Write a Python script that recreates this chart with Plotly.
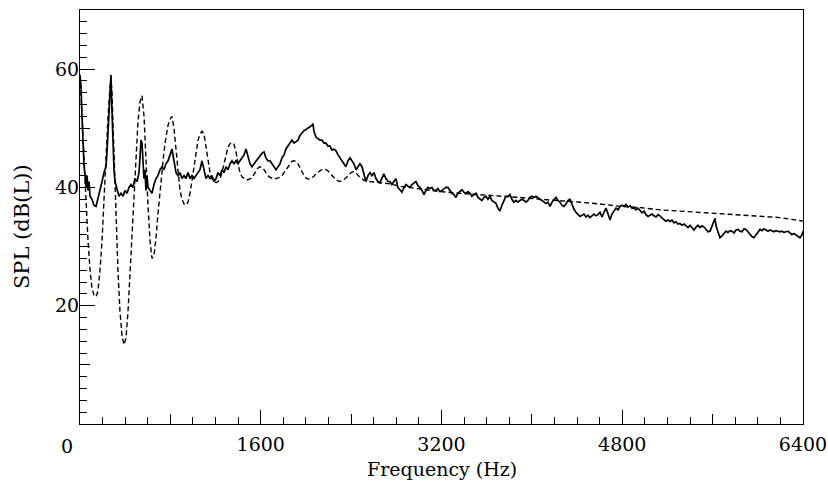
import plotly.graph_objects as go

# ---- data ----
freq_solid = [
    0, 9, 18, 27, 35, 44, 53, 62, 71, 80,
    89, 106, 124, 142, 159, 177, 195, 212, 230, 239,
    248, 257, 266, 274, 283, 292, 301, 310, 328, 345,
    363, 381, 398, 416, 434, 451, 469, 487, 505, 522,
    531, 540, 549, 558, 566, 575, 584, 593, 602, 620,
    637, 655, 673, 690, 708, 726, 743, 761, 779, 797,
    814, 832, 850, 868, 885, 903, 921, 938, 956, 974,
    991, 1009, 1027, 1045, 1062, 1080, 1098, 1115, 1133, 1151,
    1168, 1186, 1204, 1222, 1239, 1257, 1275, 1292, 1310, 1328,
    1345, 1363, 1381, 1399, 1416, 1434, 1452, 1469, 1487, 1505,
    1522, 1540, 1558, 1576, 1593, 1611, 1629, 1646, 1664, 1682,
    1700, 1717, 1735, 1753, 1770, 1788, 1806, 1823, 1841, 1859,
    1876, 1894, 1912, 1930, 1947, 1965, 1983, 2000, 2018, 2036,
    2053, 2062, 2071, 2089, 2107, 2124, 2142, 2160, 2177, 2195,
    2213, 2230, 2248, 2266, 2284, 2301, 2319, 2337, 2354, 2372,
    2390, 2407, 2425, 2443, 2460, 2478, 2496, 2513, 2531, 2549,
    2567, 2584, 2602, 2620, 2637, 2655, 2673, 2690, 2708, 2726,
    2744, 2761, 2779, 2797, 2814, 2832, 2850, 2868, 2885, 2903,
    2921, 2938, 2956, 2974, 2991, 3009, 3027, 3045, 3062, 3080,
    3098, 3115, 3133, 3151, 3168, 3186, 3204, 3222, 3239, 3257,
    3275, 3292, 3310, 3328, 3345, 3363, 3381, 3398, 3416, 3434,
    3452, 3469, 3487, 3505, 3523, 3540, 3558, 3576, 3593, 3611,
    3629, 3646, 3664, 3682, 3700, 3717, 3735, 3753, 3770, 3788,
    3806, 3823, 3841, 3859, 3876, 3894, 3912, 3930, 3947, 3965,
    3983, 4000, 4018, 4036, 4054, 4071, 4089, 4107, 4124, 4142,
    4160, 4178, 4195, 4213, 4231, 4249, 4266, 4284, 4302, 4320,
    4337, 4355, 4373, 4390, 4408, 4426, 4444, 4461, 4479, 4497,
    4514, 4532, 4550, 4568, 4585, 4603, 4621, 4638, 4656, 4674,
    4692, 4709, 4727, 4745, 4762, 4780, 4798, 4816, 4833, 4851,
    4869, 4886, 4904, 4922, 4940, 4957, 4975, 4993, 5010, 5028,
    5046, 5063, 5081, 5099, 5117, 5134, 5152, 5170, 5187, 5205,
    5223, 5240, 5258, 5276, 5293, 5311, 5329, 5347, 5364, 5382,
    5400, 5417, 5435, 5453, 5470, 5488, 5506, 5524, 5541, 5559,
    5577, 5594, 5612, 5621, 5630, 5647, 5665, 5683, 5701, 5718,
    5736, 5754, 5771, 5789, 5807, 5825, 5842, 5860, 5878, 5895,
    5913, 5931, 5948, 5966, 5984, 6001, 6019, 6037, 6054, 6072,
    6090, 6108, 6125, 6143, 6161, 6178, 6196, 6214, 6232, 6249,
    6267, 6285, 6302, 6320, 6338, 6355, 6373, 6391, 6400,
]
spl_solid = [
    59, 57, 52, 47, 44, 42, 40, 42, 39.5, 41,
    38.5, 38, 37, 36.8, 38, 39.5, 41, 42.5, 43.5, 46,
    49, 53, 56, 59, 53, 47, 43, 41, 39.5, 38.5,
    39, 38.5, 39.5, 39, 40, 40.5, 40, 41.5, 41, 42.5,
    45, 48, 47.5, 45, 41.5, 43, 39.5, 42, 40, 39.5,
    39, 40.5, 41.5, 42, 43, 43.5, 43, 44, 44.5, 45.5,
    46.5, 44.5, 42.5, 42, 42.5, 41.5, 42, 41.5, 42.5, 41.5,
    42, 41.5, 42, 42.5, 43, 44.5, 43, 41.5, 42, 41.5,
    42, 41, 41.5, 42.5, 42, 43, 42.5, 43.5, 43, 44,
    44.5, 44, 44.5, 44, 44.5, 45, 45.5, 46.5, 45, 44,
    43.5, 44, 44.5, 45, 45.5, 45.8, 46, 45, 44.5, 44.5,
    44, 43.5, 43, 43.5, 44, 45, 45.5, 46.5, 47, 47.5,
    48, 47.5, 47.8, 48, 48.8, 49.3, 49.6, 49.8, 50, 50.3,
    50.5, 50.8, 49.5, 48.5, 48.3, 48, 48, 47.5, 47.5, 47,
    47, 46.3, 46.5, 46.2, 45.5, 45, 44.5, 44, 43.5, 44.5,
    45, 44.5, 44, 43, 43.5, 44, 43.5, 42, 41, 42,
    42.5, 42, 42.5, 41.5, 41, 40.8, 41.5, 42.3, 41.5, 41,
    41, 40.5, 41, 41.5, 40, 39.5, 39.2, 40, 40.5, 40.2,
    40, 40.5, 40.8, 41, 40.3, 40, 39.5, 38.8, 39.5, 40,
    39.8, 40, 39.5, 39.5, 39.8, 39.3, 39.5, 39.8, 40, 40,
    39.5, 39, 38.8, 38.3, 39, 39.3, 39.6, 39.2, 39, 39.3,
    39, 38.5, 38.8, 39, 38.3, 38, 37.8, 38.3, 38.5, 38,
    38.5, 37.8, 37.5, 37.3, 36.5, 36, 37, 37.8, 38.5, 38.5,
    38.8, 38, 37.5, 37.8, 37.5, 37.8, 38, 37.8, 37.5, 37.8,
    38.3, 38.5, 38.3, 38.5, 38.2, 38, 37.8, 37.5, 37.3, 37.5,
    36.8, 37.5, 38, 38.3, 37.8, 37.5, 37, 36.8, 37.2, 37.8,
    38, 37, 36.3, 35.8, 35.5, 35.1, 35.3, 35.5, 35, 35.3,
    34.9, 35.2, 35.5, 35.2, 35.4, 35.8, 35, 35.8, 36.5, 35.5,
    34.5, 35.5, 36, 36.5, 36.2, 36.8, 37, 36.8, 37.1, 36.7,
    36.9, 36.5, 36.5, 36.2, 36.5, 36, 35.7, 36, 35.4, 35.1,
    35.3, 35.5, 35.2, 35, 35.4, 35.2, 34.8, 34.6, 34.3, 34.5,
    34.2, 34.5, 34, 34.2, 33.8, 33.9, 33.6, 33.8, 33.5, 33.2,
    33.6, 33.2, 32.8, 33.3, 33.6, 33.2, 33.5, 33.3, 32.8, 32.5,
    32.6, 33.5, 34.2, 34.8, 33.5, 32.5, 31.5, 31.8, 32.3, 32.6,
    32.4, 32.7, 32.6, 32.3, 32.8, 32.9, 32.6, 32.5, 33, 32.9,
    32.5, 32, 31.7, 31.5, 32, 32.5, 32.9, 32.7, 33, 32.8,
    32.6, 32.8, 32.6, 32.5, 32.7, 32.6, 32.5, 32.6, 32.4, 32.5,
    32.6, 32.3, 32, 32.2, 32, 31.8, 31.5, 32, 32.6,
]

freq_dashed = [
    0, 18, 35, 53, 71, 89, 106, 124, 142, 159,
    177, 195, 212, 230, 248, 266, 274, 283, 301, 319,
    336, 354, 372, 389, 407, 425, 443, 460, 478, 496,
    513, 531, 549, 567, 584, 602, 620, 637, 655, 673,
    690, 708, 726, 743, 761, 779, 797, 814, 832, 850,
    868, 885, 903, 921, 938, 956, 974, 991, 1009, 1027,
    1045, 1062, 1080, 1098, 1115, 1133, 1151, 1168, 1186, 1204,
    1222, 1239, 1257, 1275, 1292, 1310, 1328, 1345, 1363, 1381,
    1399, 1416, 1434, 1452, 1469, 1487, 1505, 1522, 1540, 1558,
    1576, 1593, 1611, 1629, 1646, 1664, 1682, 1700, 1717, 1735,
    1753, 1770, 1788, 1806, 1823, 1841, 1859, 1876, 1894, 1912,
    1930, 1947, 1965, 1983, 2000, 2018, 2036, 2053, 2071, 2089,
    2107, 2124, 2142, 2160, 2177, 2195, 2213, 2230, 2248, 2266,
    2284, 2301, 2319, 2337, 2354, 2372, 2390, 2407, 2425, 2443,
    2460, 2478, 2514, 2567, 2656, 2744, 2833, 3010, 3187, 3364,
    3541, 3718, 3895, 4072, 4249, 4426, 4603, 4780, 4957, 5134,
    5311, 5488, 5665, 5842, 6019, 6196, 6400,
]
spl_dashed = [
    59, 52, 44, 37, 31, 26, 23, 21.8, 21.5, 22.5,
    26, 31, 38, 45, 52, 57, 58.5, 56, 45, 35,
    26, 19, 15, 13.4, 14.5, 19, 26, 33, 40, 46,
    51, 54.5, 55.5, 52, 44, 37, 31, 28, 28.5, 31.5,
    35.5, 39.5, 43, 46, 48.5, 50.5, 51.5, 52, 50, 46.5,
    42.5, 39.5, 38, 37.2, 37, 37.5, 39, 41, 43.5, 46,
    48, 49, 49.5, 49, 47, 44.5, 42.5, 41.5, 41, 40.8,
    41, 41.5, 42.5, 44, 45.5, 46.8, 47.4, 47.6, 47.3, 46,
    44, 42.5, 41.8, 41.5, 41.3, 41.3, 41.4, 41.6, 42.2, 42.8,
    43.3, 43.5, 43.4, 43, 42.5, 42, 41.7, 41.5, 41.4, 41.5,
    41.6, 41.7, 42, 42.5, 43, 43.6, 44, 44.4, 44.5, 44.4,
    44, 43.3, 42.6, 42, 41.6, 41.4, 41.4, 41.6, 41.9, 42.3,
    42.6, 42.8, 43, 43.1, 43, 42.8, 42.4, 42, 41.6, 41.3,
    41.1, 41, 41.1, 41.3, 41.6, 42, 42.4, 42.6, 42.7, 42.5,
    42.1, 41.7, 41.2, 41, 40.8, 40.6, 40.2, 39.7, 39.3, 39,
    38.8, 38.5, 38.3, 38, 37.8, 37.5, 37.2, 36.8, 36.6, 36.2,
    36, 35.8, 35.5, 35.3, 35.2, 34.9, 34.3,
]

x_tick_vals = [0, 1600, 3200, 4800, 6400]
x_tick_text = ["", "1600", "3200", "4800", "6400"]
x_mid_ticks = [800, 2400, 4000, 5600]
y_tick_vals = [20, 40, 60]
y_tick_text = ["20", "40", "60"]
y_mid_ticks = [10, 30, 50]

assert len(freq_solid) == len(spl_solid)
assert len(freq_dashed) == len(spl_dashed)

FONT = "DejaVu Serif"
TICK_SIZE = 19

fig = go.Figure()
fig.add_trace(go.Scatter(x=freq_dashed, y=spl_dashed, mode="lines",
                         line=dict(color="black", width=1.4, dash="5px,3px"),
                         showlegend=False, hoverinfo="skip"))
fig.add_trace(go.Scatter(x=freq_solid, y=spl_solid, mode="lines",
                         line=dict(color="black", width=1.7),
                         showlegend=False, hoverinfo="skip"))
# helper trace for the overlay axes carrying the medium-length ticks
fig.add_trace(go.Scatter(x=[None], y=[None], xaxis="x2", yaxis="y2",
                         showlegend=False, hoverinfo="skip"))

fig.update_layout(
    width=828, height=482,
    margin=dict(l=80, r=25, t=10, b=58, autoexpand=False),
    paper_bgcolor="white", plot_bgcolor="white",
    font=dict(family=FONT, size=TICK_SIZE, color="black"),
    xaxis=dict(range=[0, 6400], tickvals=x_tick_vals, ticktext=x_tick_text,
               ticks="inside", ticklen=14, tickwidth=1, tickcolor="black",
               minor=dict(dtick=200, ticks="inside", ticklen=7, tickwidth=1, tickcolor="black"),
               showline=True, linecolor="black", linewidth=1, mirror=True,
               showgrid=False, zeroline=False, ticklabelstandoff=3, automargin=False,
               tickfont=dict(family=FONT, size=TICK_SIZE)),
    yaxis=dict(range=[0, 70], tickvals=y_tick_vals, ticktext=y_tick_text,
               ticks="inside", ticklen=15, tickwidth=1, tickcolor="black",
               minor=dict(dtick=2, ticks="inside", ticklen=7, tickwidth=1, tickcolor="black"),
               showline=True, linecolor="black", linewidth=1, mirror=True,
               showgrid=False, zeroline=False, ticklabelstandoff=-4, automargin=False,
               tickfont=dict(family=FONT, size=TICK_SIZE)),
    xaxis2=dict(range=[0, 6400], overlaying="x", anchor="y", side="bottom",
                tickvals=x_mid_ticks, ticks="inside", ticklen=10, tickwidth=1,
                tickcolor="black", showticklabels=False, showline=False,
                showgrid=False, zeroline=False, automargin=False),
    yaxis2=dict(range=[0, 70], overlaying="y", anchor="x", side="left",
                tickvals=y_mid_ticks, ticks="inside", ticklen=10, tickwidth=1,
                tickcolor="black", showticklabels=False, showline=False,
                showgrid=False, zeroline=False, automargin=False),
    annotations=[
        dict(text="0", x=0, xref="x", y=0, yref="paper", xshift=-13, yshift=-9,
             xanchor="center", yanchor="top", showarrow=False,
             font=dict(family=FONT, size=TICK_SIZE)),
        dict(text="Frequency (Hz)", x=0.5, xref="paper", y=-0.109, yref="paper",
             xanchor="center", yanchor="middle", showarrow=False,
             font=dict(family=FONT, size=19)),
        dict(text="SPL (dB(L))", x=-0.080, xref="paper", y=0.476, yref="paper",
             xanchor="center", yanchor="middle", textangle=-90, showarrow=False,
             font=dict(family=FONT, size=21)),
    ],
)

fig.write_html("out.html",
               config={"displayModeBar": False},
               post_script="document.body.style.margin='0';document.body.style.padding='0';document.body.style.overflow='hidden';")
